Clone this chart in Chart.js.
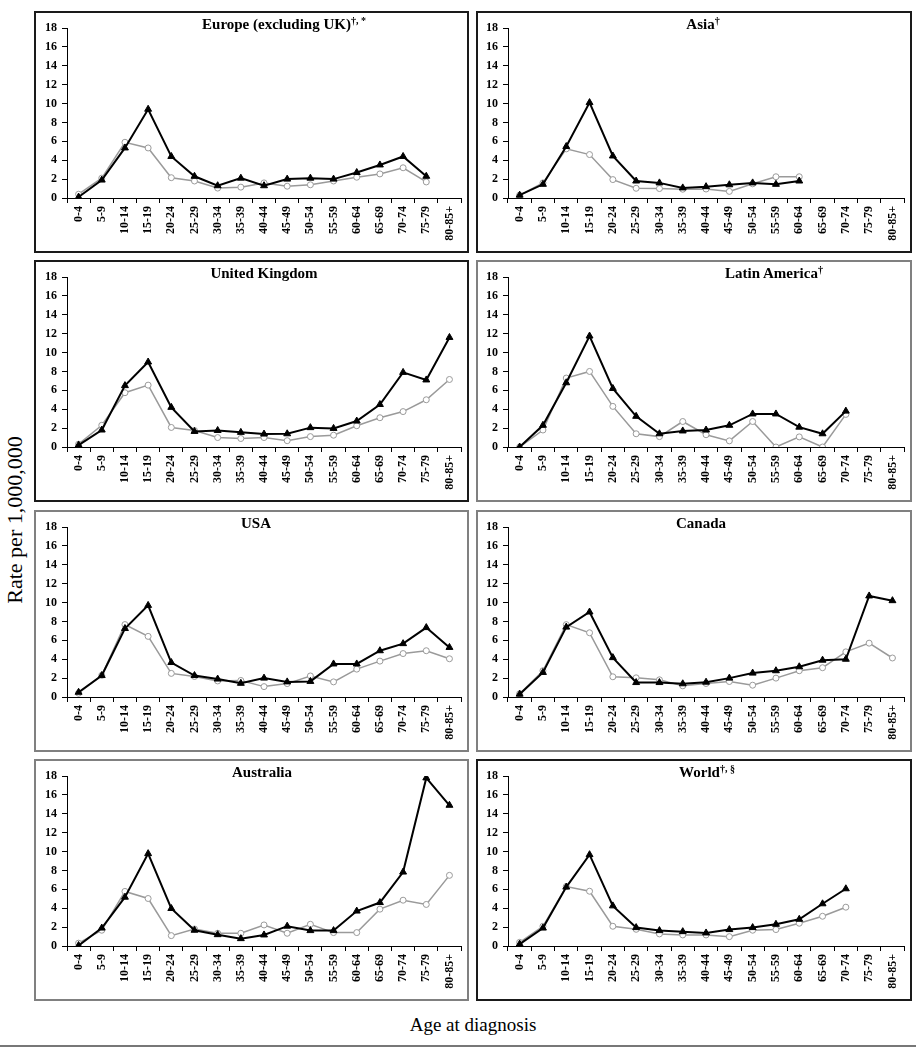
<!DOCTYPE html>
<html>
<head>
<meta charset="utf-8">
<script src="https://cdn.jsdelivr.net/npm/chart.js@4/dist/chart.umd.min.js"></script>
<style>
  body { margin: 0; background: #fff; font-family: "Liberation Serif", "Times New Roman", serif; }
  #page { position: relative; width: 916px; height: 1050px; overflow: hidden; }
  .panel { position: absolute; box-sizing: border-box; border: 2px solid #808080; background: #fff; }
  .panel.dark { border-color: #1a1a1a; }
  .panel canvas { position: absolute; left: 0; top: 0; }
  .ptitle { position: absolute; top: 2px; font-size: 15px; font-weight: bold; line-height: 18px;
            white-space: nowrap; transform: translateX(-50%); color: #000; }
  .ptitle sup { font-size: 10px; line-height: 0; vertical-align: 5px; }
  #ylabel { position: absolute; left: 15px; top: 520px; font-size: 22px; white-space: nowrap;
            transform: translate(-50%, -50%) rotate(-90deg); }
  #xlabel { position: absolute; left: 473px; top: 1025px; font-size: 19px; white-space: nowrap;
            transform: translate(-50%, -50%); }
  #rule { position: absolute; left: 0; top: 1045px; width: 916px; height: 2px; background: #777; }
</style>
</head>
<body>
<div id="page">
  <div id="ylabel">Rate per 1,000,000</div>
  <div id="xlabel">Age at diagnosis</div>
  <div id="rule"></div>
</div>
<script>
// age bands on the x axis
const ageGroups = ["0-4", "5-9", "10-14", "15-19", "20-24", "25-29", "30-34", "35-39", "40-44",
  "45-49", "50-54", "55-59", "60-64", "65-69", "70-74", "75-79", "80-85+"];
const yTicks = [0, 2, 4, 6, 8, 10, 12, 14, 16, 18];

// black line, filled triangles / grey line, open circles
const europeTri = [0.1, 1.9, 5.3, 9.4, 4.4, 2.3, 1.3, 2.1, 1.3, 2.0, 2.1, 2.0, 2.7, 3.5, 4.4, 2.3];
const europeCirc = [0.4, 2.1, 5.9, 5.3, 2.15, 1.8, 1.05, 1.15, 1.6, 1.25, 1.4, 1.8, 2.2, 2.55, 3.2, 1.7];

const asiaTri = [0.3, 1.45, 5.45, 10.1, 4.45, 1.8, 1.6, 1.07, 1.2, 1.4, 1.6, 1.45, 1.8];
const asiaCirc = [0.3, 1.6, 5.2, 4.6, 1.95, 1.03, 1.0, 0.93, 0.95, 0.7, 1.5, 2.25, 2.25];

const ukTri = [0.2, 1.8, 6.5, 9.0, 4.2, 1.65, 1.75, 1.55, 1.37, 1.4, 2.05, 1.97, 2.75, 4.5, 7.9, 7.1, 11.6];
const ukCirc = [0.3, 2.3, 5.75, 6.55, 2.07, 1.75, 1.0, 0.9, 1.0, 0.67, 1.1, 1.25, 2.25, 3.1, 3.75, 5.0, 7.15];

const latinTri = [0, 2.3, 6.8, 11.75, 6.2, 3.25, 1.4, 1.7, 1.8, 2.3, 3.5, 3.5, 2.1, 1.4, 3.8];
const latinCirc = [0, 1.8, 7.3, 8.0, 4.3, 1.4, 1.1, 2.7, 1.3, 0.65, 2.7, 0, 1.07, 0, 3.45];

const usaTri = [0.5, 2.27, 7.25, 9.7, 3.65, 2.27, 1.9, 1.45, 2.0, 1.6, 1.65, 3.5, 3.5, 4.9, 5.65, 7.35, 5.25];
const usaCirc = [0.4, 2.3, 7.67, 6.42, 2.5, 2.17, 1.7, 1.75, 1.1, 1.42, 2.23, 1.6, 2.95, 3.8, 4.6, 4.9, 4.05];

const canadaTri = [0.3, 2.6, 7.4, 9.0, 4.17, 1.53, 1.53, 1.4, 1.57, 2.0, 2.53, 2.78, 3.2, 3.9, 4.0, 10.7, 10.2];
const canadaCirc = [0.35, 2.78, 7.66, 6.8, 2.14, 2.03, 1.82, 1.18, 1.43, 1.64, 1.25, 2.0, 2.78, 3.1, 4.78, 5.7, 4.13];

const australiaTri = [0.05, 1.9, 5.17, 9.78, 3.97, 1.67, 1.2, 0.78, 1.17, 2.1, 1.63, 1.63, 3.7, 4.6, 7.83, 17.8, 14.9];
const australiaCirc = [0.3, 1.67, 5.78, 5.03, 1.1, 1.8, 1.35, 1.35, 2.23, 1.35, 2.3, 1.42, 1.42, 3.9, 4.85, 4.4, 7.48];

const worldTri = [0.2, 1.9, 6.24, 9.67, 4.25, 1.95, 1.63, 1.52, 1.38, 1.74, 1.95, 2.3, 2.83, 4.47, 6.06];
const worldCirc = [0.39, 2.09, 6.3, 5.8, 2.09, 1.77, 1.28, 1.17, 1.17, 0.99, 1.67, 1.74, 2.41, 3.15, 4.11];

const panelTitles = [
  "Europe (excluding UK)<sup>†, *</sup>", "Asia<sup>†</sup>",
  "United Kingdom", "Latin America<sup>†</sup>",
  "USA", "Canada",
  "Australia", "World<sup>†, §</sup>",
];
const panelTri = [europeTri, asiaTri, ukTri, latinTri, usaTri, canadaTri, australiaTri, worldTri];
const panelCirc = [europeCirc, asiaCirc, ukCirc, latinCirc, usaCirc, canadaCirc, australiaCirc, worldCirc];

// box geometry (px): two columns, four rows
const colLeft = [34, 476];
const colWidth = [435, 436];
const rowTop = [11, 260, 510, 759];
const boxHeight = 242;
const darkBorder = [true, true, true, false, false, false, false, true];
const titleCenter = [248, 225, 228, 296, 220, 223, 226, 229];

const tickFont = { family: "'Liberation Serif', serif", size: 12, weight: "bold" };

function makePanel(i) {
  const page = document.getElementById("page");
  const col = i % 2;
  const row = Math.floor(i / 2);

  const box = document.createElement("div");
  box.className = "panel" + (darkBorder[i] ? " dark" : "");
  box.style.left = colLeft[col] + "px";
  box.style.top = rowTop[row] + "px";
  box.style.width = colWidth[col] + "px";
  box.style.height = boxHeight + "px";

  const canvas = document.createElement("canvas");
  canvas.width = colWidth[col] - 4;
  canvas.height = boxHeight - 4;
  box.appendChild(canvas);

  const title = document.createElement("div");
  title.className = "ptitle";
  title.style.left = titleCenter[i] + "px";
  title.innerHTML = panelTitles[i];
  box.appendChild(title);
  page.appendChild(box);

  new Chart(canvas, {
    type: "line",
    data: {
      labels: ageGroups,
      datasets: [
        {
          data: panelTri[i],
          borderColor: "#000",
          backgroundColor: "#000",
          borderWidth: 2,
          pointStyle: "triangle",
          pointRadius: 4,
          pointBorderWidth: 1,
          pointBackgroundColor: "#000",
          pointBorderColor: "#000",
        },
        {
          data: panelCirc[i],
          borderColor: "#9a9a9a",
          backgroundColor: "#fff",
          borderWidth: 1.5,
          pointStyle: "circle",
          pointRadius: 3,
          pointBorderWidth: 1,
          pointBackgroundColor: "#fff",
          pointBorderColor: "#9a9a9a",
        },
      ],
    },
    options: {
      responsive: false,
      animation: false,
      layout: { padding: { top: 15, right: col ? 1 : 0, left: 0, bottom: 0 } },
      plugins: { legend: { display: false }, tooltip: { enabled: false } },
      scales: {
        x: {
          offset: true,
          grid: { offset: true, drawOnChartArea: false, tickLength: 5, color: "#000" },
          border: { color: "#000", width: 1 },
          ticks: { autoSkip: false, minRotation: 90, maxRotation: 90, padding: 3, color: "#000", font: tickFont },
          afterFit: (s) => { s.height = 53; },
        },
        y: {
          min: 0,
          max: 18,
          afterBuildTicks: (s) => { s.ticks = yTicks.map((v) => ({ value: v })); },
          grid: { drawOnChartArea: false, tickLength: 5, color: "#000" },
          border: { color: "#000", width: 1 },
          ticks: { padding: 5, color: "#000", font: tickFont },
          afterFit: (s) => { s.width = col ? 30 : 31; },
        },
      },
    },
  });
}

for (let i = 0; i < 8; i++) makePanel(i);
</script>
</body>
</html>
